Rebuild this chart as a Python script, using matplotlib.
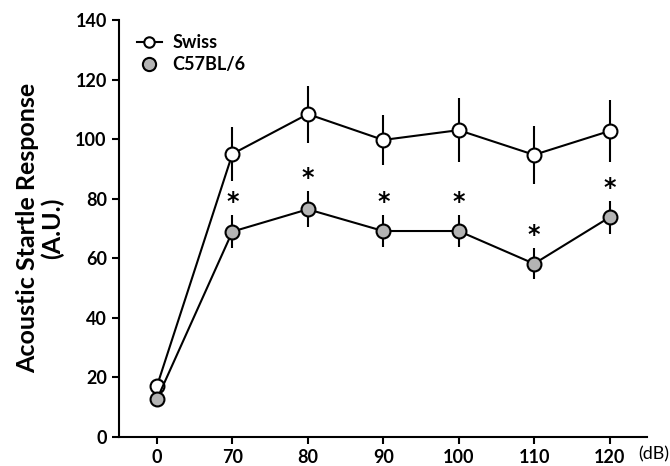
import matplotlib
matplotlib.use("Agg")
import matplotlib.pyplot as plt
from matplotlib.lines import Line2D

plt.rcParams["font.family"] = ["Lato", "DejaVu Sans"]

# data
levels = ["0", "70", "80", "90", "100", "110", "120"]
swiss_mean = [17, 95, 108.4, 99.7, 103, 94.7, 102.7]
swiss_err = [0, 9, 9.6, 8.5, 10.7, 9.8, 10.4]
c57_mean = [12.6, 68.9, 76.4, 69.1, 69.1, 58.1, 73.7]
c57_err = [0, 5.5, 6, 5.4, 5.4, 5.2, 5.5]
signif = [False, True, True, True, True, True, True]

x = list(range(len(levels)))

fig = plt.figure(figsize=(6.7, 4.66), dpi=100)
ax = fig.add_axes([0.178, 0.063, 0.788, 0.894])

ax.errorbar(x, swiss_mean, yerr=swiss_err, fmt="-o", color="black", lw=1.5,
            elinewidth=1.5, capsize=0, ms=10, mfc="white", mec="black", mew=1.5,
            zorder=2)
ax.errorbar(x, c57_mean, yerr=c57_err, fmt="-o", color="black", lw=1.5,
            elinewidth=1.5, capsize=0, ms=10, mfc="#b4b4b4", mec="black", mew=1.5,
            zorder=3)

for xi, m, e, s in zip(x, c57_mean, c57_err, signif):
    if s:
        ax.text(xi, m + e + 4.5, "*", ha="center", va="center",
                fontsize=17, fontweight="bold", family="DejaVu Sans")

ax.set_xlim(-0.5, 6.5)
ax.set_ylim(0, 140)
ax.set_xticks(x)
ax.set_xticklabels(levels)
ax.set_yticks(range(0, 141, 20))
for sp in ["top", "right"]:
    ax.spines[sp].set_visible(False)
for sp in ["left", "bottom"]:
    ax.spines[sp].set_linewidth(1.5)
ax.tick_params(width=1.5, length=5, labelsize=13, pad=4)
for lab in ax.get_xticklabels() + ax.get_yticklabels():
    lab.set_fontweight("bold")

ax.set_ylabel("Acoustic Startle Response\n(A.U.)", fontsize=18,
              fontweight="bold", labelpad=8, linespacing=1.1)
ax.text(6.38, -5.8, "(dB)", fontsize=13, ha="left", va="center",
        clip_on=False)

handles = [
    Line2D([], [], color="black", lw=1.5, marker="o", ms=7.5, mfc="white",
           mec="black", mew=1.5),
    Line2D([], [], color="black", lw=0, marker="o", ms=9.5, mfc="#b4b4b4",
           mec="black", mew=1.5),
]
leg = ax.legend(handles, ["Swiss", "C57BL/6"], loc="upper left",
                bbox_to_anchor=(0.019, 0.984), borderaxespad=0, frameon=False,
                handlelength=1.4, handletextpad=0.6, labelspacing=0.3,
                prop={"size": 13, "weight": "bold"})

fig.savefig("out.png", dpi=100)
